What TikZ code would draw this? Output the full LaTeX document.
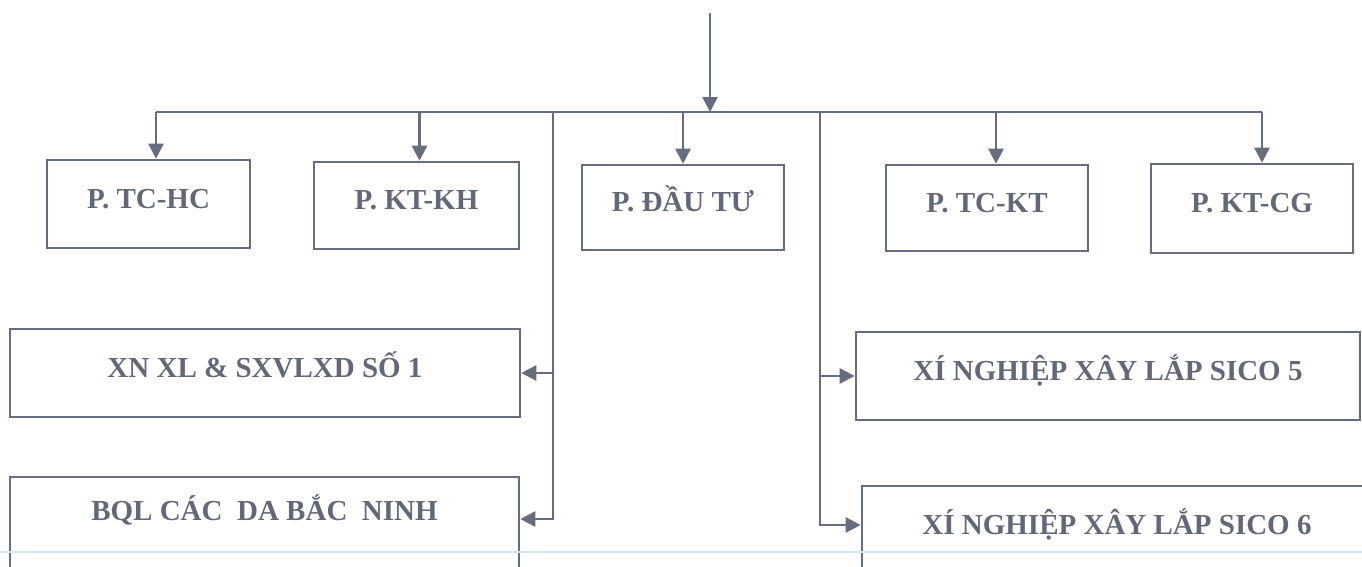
\documentclass[tikz,border=0pt]{standalone}
\usepackage{fontspec}
\setmainfont{Liberation Serif}
\usetikzlibrary{arrows.meta}
\definecolor{linegray}{HTML}{676D7E}
\definecolor{textgray}{HTML}{636878}
\definecolor{pageblue}{HTML}{CFE8F2}
\tikzset{
    box/.style={draw=linegray,line width=2.6pt,rectangle,inner sep=0pt,
        text=textgray,font=\fontsize{29}{31}\selectfont\bfseries,
        text height=20pt,text depth=12pt},
    arr/.style={draw=linegray,line width=2.6pt,-{Triangle[length=15pt,width=15pt]}},
    wire/.style={draw=linegray,line width=2.6pt}
}
\begin{document}
\begin{tikzpicture}[x=1pt,y=-1pt]
    \useasboundingbox (0,0) rectangle (1362,566);
    % phong ban
    \node[box,minimum width=203pt,minimum height=88pt] at (148.5,204) (tchc) {P. TC-HC};
    \node[box,minimum width=205pt,minimum height=87pt] at (416.5,205.5) (ktkh) {P. KT-KH};
    \node[box,minimum width=202pt,minimum height=85pt] at (683,207.5) (dautu) {P. ĐẦU TƯ};
    \node[box,minimum width=202pt,minimum height=86pt] at (987,208) (tckt) {P. TC-KT};
    \node[box,minimum width=202pt,minimum height=89pt] at (1252,208.5) (ktcg) {P. KT-CG};
    % don vi truc thuoc
    \node[box,minimum width=510pt,minimum height=88pt] at (265,373) (xn1) {XN XL \& SXVLXD SỐ 1};
    \node[box,minimum width=509pt,minimum height=96pt,text depth=30pt] at (264.5,525) (bql) {BQL CÁC~~DA BẮC~~NINH};
    \node[box,minimum width=504pt,minimum height=88pt] at (1108,376) (sico5) {XÍ NGHIỆP XÂY LẮP SICO 5};
    \node[box,minimum width=510pt,minimum height=88pt] at (1117,530) (sico6) {XÍ NGHIỆP XÂY LẮP SICO 6};
    \coordinate (top) at (710,13);
    \coordinate (busL) at (156,112);
    \coordinate (busR) at (1262,112);
    \coordinate (spineL) at (553,112);
    \coordinate (spineR) at (820,112);
    \draw[arr] (top) -- (top |- busL);
    \draw[wire] (busL) -- (busR);
    \draw[arr] (busL) -- (busL |- tchc.north);
    \draw[arr] ([xshift=3pt]ktkh.north |- busL) -- ([xshift=3pt]ktkh.north);
    \draw[arr] (dautu.north |- busL) -- (dautu.north);
    \draw[arr] ([xshift=9pt]tckt.north |- busL) -- ([xshift=9pt]tckt.north);
    \draw[arr] (busR) -- (busR |- ktcg.north);
    \draw[arr] (spineL) |- ([yshift=6pt]bql.east);
    \draw[arr] (spineL |- xn1.east) -- (xn1.east);
    \draw[arr] (spineR) |- ([yshift=5pt]sico6.west);
    \draw[arr] (spineR |- sico5.west) -- (sico5.west);
    \draw[pageblue,line width=1.2pt] (0,552) -- (1362,552);
\end{tikzpicture}
\end{document}
